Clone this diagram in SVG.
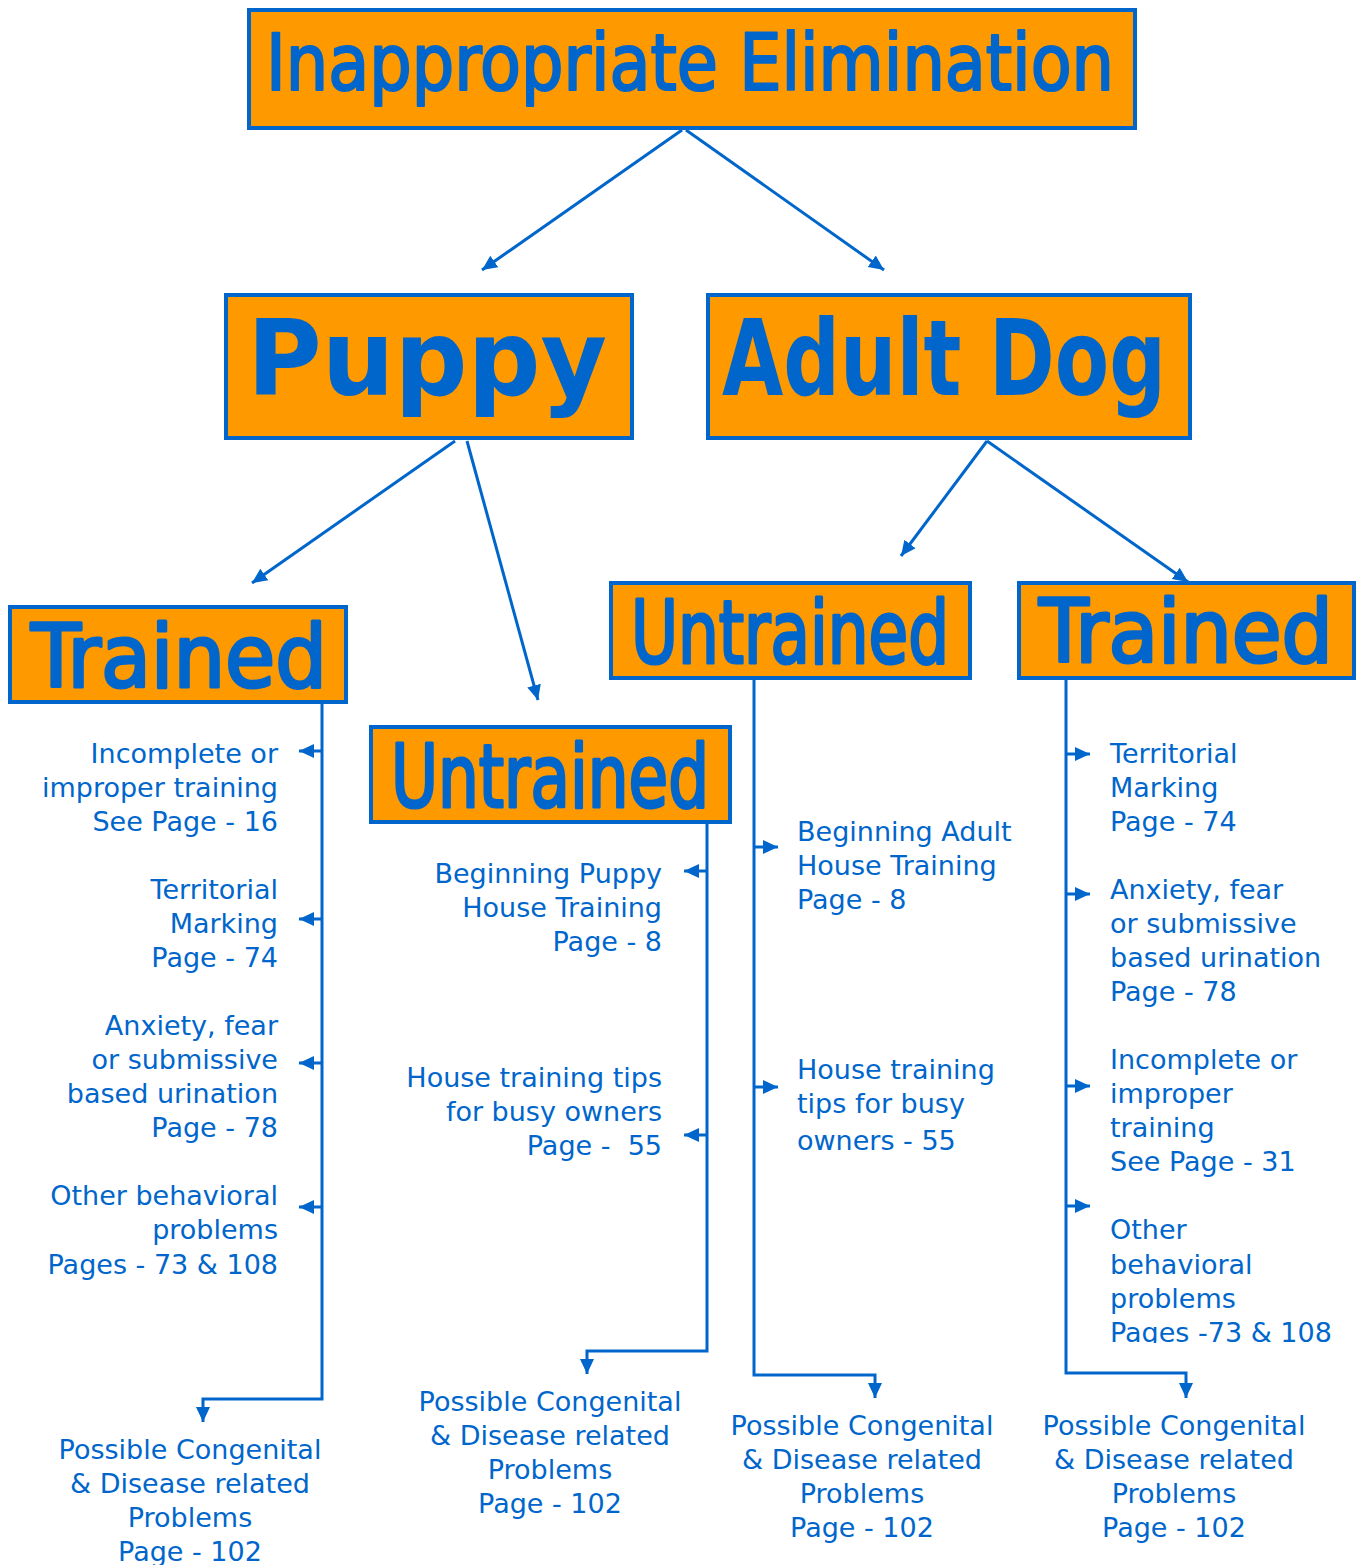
<svg xmlns="http://www.w3.org/2000/svg" width="1357" height="1565" viewBox="0 0 1357 1565">
<defs>
<style>
.box{fill:#FF9900;stroke:#0066CC;stroke-width:4}
.title{fill:#0066CC;stroke:#0066CC;stroke-width:3;stroke-linejoin:round;font-family:"DejaVu Sans Condensed","DejaVu Sans",sans-serif;font-weight:normal}
.head{fill:#0066CC;stroke:#0066CC;stroke-width:2.2;stroke-linejoin:round;font-family:"DejaVu Sans Condensed","DejaVu Sans",sans-serif;font-weight:normal}
.big{fill:#0066CC;font-family:"DejaVu Sans",sans-serif;font-weight:bold}
.lbl{fill:#0066CC;font-family:"DejaVu Sans",sans-serif;font-size:27px}
.r{text-anchor:end}
.c{text-anchor:middle}
.ln{fill:none;stroke:#0066CC;stroke-width:3}
</style>
<marker id="ah" markerUnits="userSpaceOnUse" markerWidth="16" markerHeight="16" viewBox="0 0 16 16" refX="15" refY="8" orient="auto">
<path d="M0,1 L15,8 L0,15 Z" fill="#0066CC"/>
</marker>
<clipPath id="clipBottom"><rect x="1090" y="1180" width="267" height="163"/></clipPath>
</defs>

<g id="connectors">
<line class="ln" x1="682" y1="130" x2="482" y2="270" marker-end="url(#ah)"/>
<line class="ln" x1="686" y1="130" x2="884" y2="270" marker-end="url(#ah)"/>
<line class="ln" x1="455" y1="441" x2="252" y2="583" marker-end="url(#ah)"/>
<line class="ln" x1="467" y1="441" x2="538" y2="700" marker-end="url(#ah)"/>
<line class="ln" x1="987" y1="441" x2="901" y2="556" marker-end="url(#ah)"/>
<line class="ln" x1="987" y1="441" x2="1188" y2="582" marker-end="url(#ah)"/>

<polyline class="ln" points="322,704 322,1399 203,1399 203,1422" marker-end="url(#ah)"/>
<line class="ln" x1="322" y1="751" x2="299" y2="751" marker-end="url(#ah)"/>
<line class="ln" x1="322" y1="919" x2="299" y2="919" marker-end="url(#ah)"/>
<line class="ln" x1="322" y1="1063" x2="299" y2="1063" marker-end="url(#ah)"/>
<line class="ln" x1="322" y1="1207" x2="299" y2="1207" marker-end="url(#ah)"/>

<polyline class="ln" points="707,824 707,1351 587,1351 587,1374" marker-end="url(#ah)"/>
<line class="ln" x1="707" y1="871" x2="684" y2="871" marker-end="url(#ah)"/>
<line class="ln" x1="707" y1="1135" x2="684" y2="1135" marker-end="url(#ah)"/>

<polyline class="ln" points="754,680 754,1375 875,1375 875,1398" marker-end="url(#ah)"/>
<line class="ln" x1="754" y1="847" x2="778" y2="847" marker-end="url(#ah)"/>
<line class="ln" x1="754" y1="1087" x2="778" y2="1087" marker-end="url(#ah)"/>

<polyline class="ln" points="1066,680 1066,1373 1186,1373 1186,1398" marker-end="url(#ah)"/>
<line class="ln" x1="1066" y1="754" x2="1090" y2="754" marker-end="url(#ah)"/>
<line class="ln" x1="1066" y1="894" x2="1090" y2="894" marker-end="url(#ah)"/>
<line class="ln" x1="1066" y1="1086" x2="1090" y2="1086" marker-end="url(#ah)"/>
<line class="ln" x1="1066" y1="1206" x2="1090" y2="1206" marker-end="url(#ah)"/>
</g>

<g id="node-root">
<rect class="box" x="249" y="10" width="886" height="118"/>
<text class="head" x="266" y="90" font-size="78" textLength="848" lengthAdjust="spacingAndGlyphs">Inappropriate Elimination</text>
</g>
<g id="node-puppy">
<rect class="box" x="226" y="295" width="406" height="143"/>
<text class="big" x="247" y="395" font-size="106" textLength="360" lengthAdjust="spacingAndGlyphs">Puppy</text>
</g>
<g id="node-adult">
<rect class="box" x="708" y="295" width="482" height="143"/>
<text class="big" x="722" y="395" font-size="106" textLength="444" lengthAdjust="spacingAndGlyphs">Adult Dog</text>
</g>
<g id="node-puppy-trained">
<rect class="box" x="10" y="607" width="336" height="95"/>
<text class="title" x="31" y="687" font-size="88" textLength="296" lengthAdjust="spacingAndGlyphs">Trained</text>
</g>
<g id="node-puppy-untrained">
<rect class="box" x="371" y="727" width="359" height="95"/>
<text class="title" x="391" y="807" font-size="88" textLength="318" lengthAdjust="spacingAndGlyphs">Untrained</text>
</g>
<g id="node-adult-untrained">
<rect class="box" x="611" y="583" width="359" height="95"/>
<text class="title" x="631" y="663" font-size="88" textLength="318" lengthAdjust="spacingAndGlyphs">Untrained</text>
</g>
<g id="node-adult-trained">
<rect class="box" x="1019" y="583" width="335" height="95"/>
<text class="title" x="1039" y="662" font-size="88" textLength="294" lengthAdjust="spacingAndGlyphs">Trained</text>
</g>

<g id="label-pt-1"><text class="lbl r" x="278" y="763">Incomplete or</text><text class="lbl r" x="278" y="797">improper training</text><text class="lbl r" x="278" y="831">See Page - 16</text></g>
<g id="label-pt-2"><text class="lbl r" x="278" y="899">Territorial</text><text class="lbl r" x="278" y="933">Marking</text><text class="lbl r" x="278" y="967">Page - 74</text></g>
<g id="label-pt-3"><text class="lbl r" x="278" y="1035">Anxiety, fear</text><text class="lbl r" x="278" y="1069">or submissive</text><text class="lbl r" x="278" y="1103">based urination</text><text class="lbl r" x="278" y="1137">Page - 78</text></g>
<g id="label-pt-4"><text class="lbl r" x="278" y="1205">Other behavioral</text><text class="lbl r" x="278" y="1239">problems</text><text class="lbl r" x="278" y="1274">Pages - 73 &amp; 108</text></g>
<g id="label-pt-5"><text class="lbl c" x="190" y="1459">Possible Congenital</text><text class="lbl c" x="190" y="1493">&amp; Disease related</text><text class="lbl c" x="190" y="1527">Problems</text><text class="lbl c" x="190" y="1561">Page - 102</text></g>

<g id="label-pu-1"><text class="lbl r" x="662" y="883">Beginning Puppy</text><text class="lbl r" x="662" y="917">House Training</text><text class="lbl r" x="662" y="951">Page - 8</text></g>
<g id="label-pu-2"><text class="lbl r" x="662" y="1087">House training tips</text><text class="lbl r" x="662" y="1121">for busy owners</text><text class="lbl r" x="662" y="1155" xml:space="preserve">Page -  55</text></g>
<g id="label-pu-3"><text class="lbl c" x="550" y="1411">Possible Congenital</text><text class="lbl c" x="550" y="1445">&amp; Disease related</text><text class="lbl c" x="550" y="1479">Problems</text><text class="lbl c" x="550" y="1513">Page - 102</text></g>

<g id="label-au-1"><text class="lbl" x="797" y="841">Beginning Adult</text><text class="lbl" x="797" y="875">House Training</text><text class="lbl" x="797" y="909">Page - 8</text></g>
<g id="label-au-2"><text class="lbl" x="797" y="1079">House training</text><text class="lbl" x="797" y="1113">tips for busy</text><text class="lbl" x="797" y="1150">owners - 55</text></g>
<g id="label-au-3"><text class="lbl c" x="862" y="1435">Possible Congenital</text><text class="lbl c" x="862" y="1469">&amp; Disease related</text><text class="lbl c" x="862" y="1503">Problems</text><text class="lbl c" x="862" y="1537">Page - 102</text></g>

<g id="label-at-1"><text class="lbl" x="1110" y="763">Territorial</text><text class="lbl" x="1110" y="797">Marking</text><text class="lbl" x="1110" y="831">Page - 74</text></g>
<g id="label-at-2"><text class="lbl" x="1110" y="899">Anxiety, fear</text><text class="lbl" x="1110" y="933">or submissive</text><text class="lbl" x="1110" y="967">based urination</text><text class="lbl" x="1110" y="1001">Page - 78</text></g>
<g id="label-at-3"><text class="lbl" x="1110" y="1069">Incomplete or</text><text class="lbl" x="1110" y="1103">improper</text><text class="lbl" x="1110" y="1137">training</text><text class="lbl" x="1110" y="1171">See Page - 31</text></g>
<g id="label-at-4" clip-path="url(#clipBottom)"><text class="lbl" x="1110" y="1239">Other</text><text class="lbl" x="1110" y="1274">behavioral</text><text class="lbl" x="1110" y="1308">problems</text><text class="lbl" x="1110" y="1342">Pages -73 &amp; 108</text></g>
<g id="label-at-5"><text class="lbl c" x="1174" y="1435">Possible Congenital</text><text class="lbl c" x="1174" y="1469">&amp; Disease related</text><text class="lbl c" x="1174" y="1503">Problems</text><text class="lbl c" x="1174" y="1537">Page - 102</text></g>
</svg>
